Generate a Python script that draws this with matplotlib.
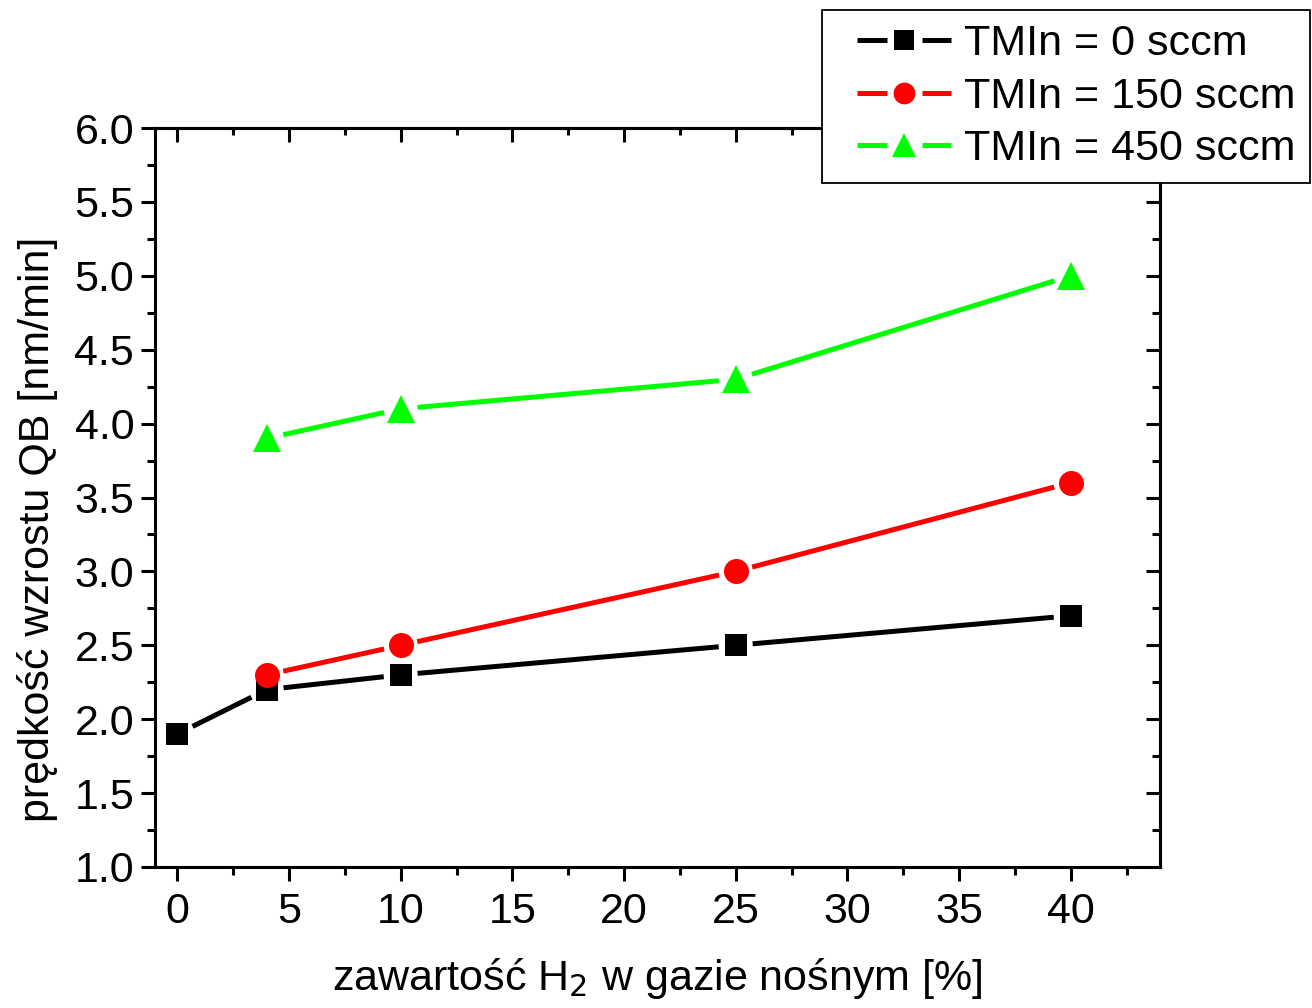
import numpy as np
import matplotlib
matplotlib.use("Agg")
import matplotlib.pyplot as plt
from matplotlib.lines import Line2D
from matplotlib.legend_handler import HandlerLine2D
from matplotlib.ticker import MultipleLocator

plt.rcParams['font.family'] = ['Liberation Sans', 'DejaVu Sans']

# growth rate vs. H2 content for three TMIn flows
h2_all = [0, 4, 10, 25, 40]
h2_part = [4, 10, 25, 40]
rate_0 = [1.9, 2.2, 2.3, 2.5, 2.7]
rate_150 = [2.3, 2.5, 3.0, 3.6]
rate_450 = [3.9, 4.1, 4.3, 5.0]
labels = ["TMIn = 0 sccm", "TMIn = 150 sccm", "TMIn = 450 sccm"]

series = [
    (h2_all, rate_0, "black", "s", 16),
    (h2_part, rate_150, "#ff0000", "o", 18),
    (h2_part, rate_450, "#00ff00", "^", 20),
]

fig = plt.figure(figsize=(13.12, 10.08), dpi=100)
ax = fig.add_axes([155 / 1312, 1 - 867 / 1008, 1005 / 1312, 739 / 1008])
ax.set_xlim(-1, 44)
ax.set_ylim(1.0, 6.0)

LW = 3.6
CUT_PX = 17.0


def gapped_line(ax, xs, ys, color):
    """Draw polyline segments that stop short of each marker."""
    tr = ax.transData
    pts = tr.transform(np.column_stack([xs, ys]))
    inv = tr.inverted()
    for p, q in zip(pts[:-1], pts[1:]):
        d = q - p
        L = np.hypot(*d)
        if L <= 2 * CUT_PX:
            continue
        u = d / L
        a = inv.transform(p + u * CUT_PX)
        b = inv.transform(q - u * CUT_PX)
        ax.plot([a[0], b[0]], [a[1], b[1]], color=color, lw=LW,
                solid_capstyle='butt', zorder=2)


handles = []
for (xs, ys, c, m, ms), lab in zip(series, labels):
    gapped_line(ax, xs, ys, c)
for (xs, ys, c, m, ms), lab in zip(series, labels):
    ax.plot(xs, ys, linestyle='none', marker=m, ms=ms, color=c,
            markeredgewidth=0, zorder=3)
    handles.append(Line2D([], [], color=c, lw=LW, marker=m, ms=ms * 0.87,
                          markeredgewidth=0, label=lab))

LEG_FS = 31
LEAD_PT = 15.0      # empty space before each legend line sample
HANDLE_PT = 68.0    # length of the drawn legend sample


class GapHandler(HandlerLine2D):
    def create_artists(self, legend, orig_handle, xdescent, ydescent,
                       width, height, fontsize, trans):
        y = height / 2 - ydescent
        x0 = -xdescent + LEAD_PT
        x1 = x0 + HANDLE_PT
        xm = (x0 + x1) / 2
        g = 12.5
        c = orig_handle.get_color()
        l1 = Line2D([x0, xm - g], [y, y], color=c, lw=LW, solid_capstyle='butt')
        l2 = Line2D([xm + g, x1], [y, y], color=c, lw=LW, solid_capstyle='butt')
        mk = Line2D([xm], [y], linestyle='none', marker=orig_handle.get_marker(),
                    ms=orig_handle.get_markersize(), color=c, markeredgewidth=0)
        for a in (l1, l2, mk):
            a.set_transform(trans)
        return [l1, l2, mk]


leg = fig.legend(handles=handles, loc='upper left',
                 bbox_to_anchor=(822 / 1312, 1 - 10 / 1008),
                 bbox_transform=fig.transFigure, borderaxespad=0,
                 fontsize=LEG_FS, frameon=True, fancybox=False, shadow=False,
                 handlelength=(LEAD_PT + HANDLE_PT) / LEG_FS,
                 handletextpad=0.3, labelspacing=0.29,
                 borderpad=0.33, handler_map={Line2D: GapHandler()})
leg.get_frame().set_edgecolor('black')
leg.get_frame().set_linewidth(1.3)
leg.get_frame().set_alpha(1)

# ticks: outward on bottom/left, inward on top/right
ax.xaxis.set_major_locator(MultipleLocator(5))
ax.xaxis.set_minor_locator(MultipleLocator(2.5))
ax.yaxis.set_major_locator(MultipleLocator(0.5))
ax.yaxis.set_minor_locator(MultipleLocator(0.25))
ax.xaxis.set_major_formatter(plt.FormatStrFormatter('%d'))
ax.yaxis.set_major_formatter(plt.FormatStrFormatter('%.1f'))
ax.tick_params(which='major', direction='out', length=10, width=2.2,
               labelsize=31, pad=5)
ax.tick_params(axis='x', which='major', pad=8)
ax.tick_params(which='minor', direction='out', length=5.5, width=2.2)

top = ax.secondary_xaxis('top')
top.xaxis.set_major_locator(MultipleLocator(5))
top.xaxis.set_minor_locator(MultipleLocator(2.5))
top.tick_params(which='major', direction='in', length=10, width=2.2, labeltop=False)
top.tick_params(which='minor', direction='in', length=5, width=2.2)
top.spines['top'].set_linewidth(2.2)

right = ax.secondary_yaxis('right')
right.yaxis.set_major_locator(MultipleLocator(0.5))
right.yaxis.set_minor_locator(MultipleLocator(0.25))
right.tick_params(which='major', direction='in', length=10, width=2.2, labelright=False)
right.tick_params(which='minor', direction='in', length=5.5, width=2.2)
right.spines['right'].set_linewidth(2.2)

for s in ax.spines.values():
    s.set_linewidth(2.2)

ax.set_xlabel("zawartość H$_2$ w gazie nośnym [%]", fontsize=31)
ax.set_ylabel("prędkość wzrostu QB [nm/min]", fontsize=31)
ax.xaxis.set_label_coords(0.5, -0.12)
ax.yaxis.set_label_coords(-0.097, 0.457)

fig.savefig("out.png", dpi=100)
